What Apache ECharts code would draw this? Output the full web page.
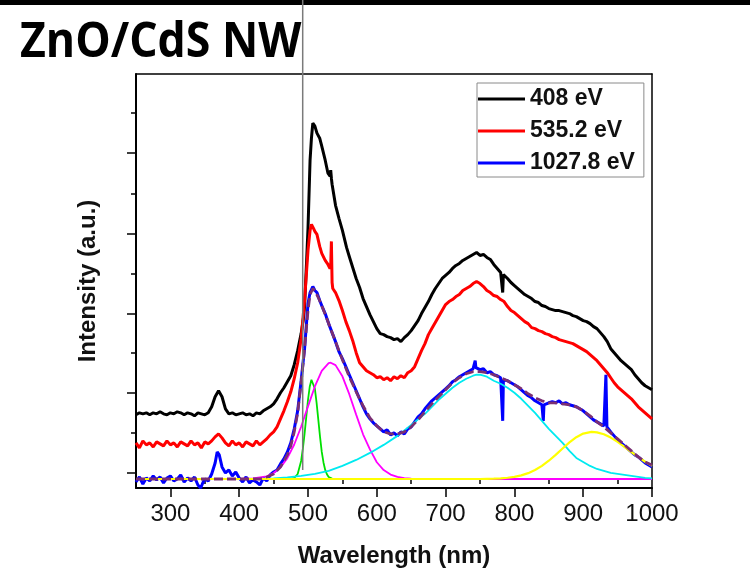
<!DOCTYPE html>
<html>
<head>
<meta charset="utf-8">
<script src="https://cdn.jsdelivr.net/npm/echarts@6/dist/echarts.min.js"></script>
<style>html,body{margin:0;padding:0;background:#fff}#c{width:750px;height:578px}</style>
</head>
<body>
<div id="c"></div>
<script>
// Wavelength (nm), intensity (a.u.)
const xMajorTicks = [300, 400, 500, 600, 700, 800, 900, 1000];
const xMinorTicks = [350, 450, 550, 650, 750, 850, 950];
const yMajorTicks = [6, 86, 165, 245, 325];
const yMinorTicks = [46, 126, 205, 285, 365];
const seriesNames = ['408 eV', '535.2 eV', '1027.8 eV'];

const black408 = [[250,64],[255,66],[260,65],[265,66],[270,64],[275,66],[280,65],[285,67],[290,65],[295,64],[300,66],[305,65],[310,67],[315,66],[320,64],[325,66],[330,65],[335,63],[340,66],[345,65],[350,64],[355,66],[360,72],[365,82],[370,88],[375,82],[380,70],[385,65],[390,66],[395,64],[400,65],[405,66],[410,64],[415,65],[420,63],[425,66],[430,65],[435,68],[440,70],[445,72],[450,75],[455,80],[460,86],[465,91],[470,97],[475,103],[480,114],[485,128],[490,145],[493,158],[495,172],[498,218],[500,250],[503,318],[505,340],[507,355],[510,352],[513,345],[517,340],[520,332],[525,318],[529,305],[532,302],[533,308],[534,300],[535,294],[540,273],[545,260],[550,248],[556,231],[560,222],[565,211],[570,200],[575,191],[580,180],[585,172],[590,164],[595,157],[600,150],[605,145],[610,144],[615,142],[620,141],[625,139],[630,140],[635,137],[640,141],[645,144],[650,148],[655,153],[660,158],[665,165],[670,171],[675,177],[680,184],[685,190],[690,195],[695,200],[700,203],[705,206],[710,210],[715,213],[720,215],[725,218],[730,220],[735,222],[740,224],[745,226],[750,223],[755,224],[760,221],[765,219],[770,214],[775,210],[780,206],[782,205],[783,186],[784,204],[790,200],[795,196],[800,193],[805,190],[810,187],[815,184],[820,182],[825,180],[830,177],[835,176],[840,173],[845,172],[850,170],[855,169],[860,168],[865,168],[870,167],[875,166],[880,165],[885,163],[890,162],[895,160],[900,158],[905,157],[910,155],[915,152],[920,150],[925,146],[930,142],[935,137],[940,130],[945,126],[950,122],[955,118],[960,115],[965,112],[970,109],[975,104],[980,100],[985,96],[990,93],[995,91],[1000,89]];

const red535 = [[250,36],[255,31],[260,38],[265,34],[270,36],[275,32],[280,37],[285,35],[290,33],[295,38],[300,34],[305,36],[310,32],[315,37],[320,35],[325,33],[330,38],[335,34],[340,36],[345,31],[350,37],[355,35],[360,38],[365,42],[370,45],[375,41],[380,36],[385,33],[390,38],[395,34],[400,36],[405,32],[410,37],[415,35],[420,33],[425,38],[430,34],[435,37],[440,40],[445,44],[450,47],[455,52],[460,60],[465,68],[470,77],[475,87],[480,100],[485,116],[490,140],[495,178],[500,228],[503,248],[505,254],[508,250],[510,247],[513,244],[517,232],[520,225],[525,218],[529,214],[532,210],[533,212],[534,237],[535,196],[536,190],[540,186],[545,178],[550,168],[555,157],[560,148],[565,138],[570,126],[575,116],[580,112],[585,108],[590,106],[595,104],[600,101],[605,102],[610,99],[615,101],[620,98],[625,102],[630,100],[635,103],[640,101],[645,106],[650,108],[655,112],[660,120],[665,128],[670,135],[675,144],[680,150],[685,156],[690,162],[695,168],[700,174],[705,177],[710,179],[715,182],[720,184],[725,188],[730,190],[735,192],[740,195],[745,197],[750,195],[755,192],[760,188],[765,186],[770,183],[775,182],[780,179],[785,177],[790,172],[795,168],[800,166],[805,163],[810,160],[815,157],[820,155],[825,151],[830,150],[835,148],[840,147],[845,145],[850,144],[855,142],[860,141],[865,139],[870,138],[875,137],[880,136],[885,135],[890,133],[895,131],[900,129],[905,127],[910,124],[915,121],[920,118],[925,114],[930,110],[935,106],[940,101],[945,96],[950,92],[955,89],[960,86],[965,83],[970,80],[975,76],[980,72],[985,69],[990,66],[995,63],[1000,60]];

const blue1027 = [[250,-3],[255,2],[260,-5],[265,1],[270,-2],[275,3],[280,-1],[285,2],[290,-4],[295,1],[300,3],[305,-2],[310,0],[315,4],[320,-3],[325,1],[330,-2],[335,2],[340,-6],[344,-9],[347,-4],[350,0],[355,-2],[360,5],[365,16],[368,27],[371,24],[375,12],[380,6],[385,9],[390,3],[395,7],[400,1],[405,-3],[410,2],[415,-4],[420,-1],[425,-3],[430,-6],[435,1],[440,-2],[445,4],[450,7],[455,9],[460,15],[465,20],[470,27],[475,36],[480,50],[485,68],[490,98],[495,130],[500,175],[503,186],[507,192],[510,188],[513,186],[517,178],[520,173],[525,165],[530,155],[535,146],[540,137],[545,127],[550,120],[555,112],[560,104],[565,96],[570,88],[575,80],[580,72],[585,65],[590,60],[595,56],[600,53],[605,50],[610,47],[615,49],[620,44],[625,46],[630,43],[635,47],[640,45],[645,50],[650,52],[655,57],[660,62],[665,65],[670,70],[675,74],[680,78],[685,81],[690,84],[695,87],[700,90],[705,93],[710,97],[715,99],[720,102],[725,104],[730,106],[735,108],[740,110],[742,110],[743,118],[744,111],[750,109],[755,110],[760,106],[765,107],[770,104],[775,103],[780,101],[782,100],[783,58],[784,99],[790,98],[795,96],[800,94],[805,92],[810,89],[815,86],[820,83],[825,81],[830,78],[835,76],[840,74],[842,58],[843,74],[850,76],[855,77],[860,76],[865,78],[870,75],[875,76],[880,74],[885,73],[890,72],[895,70],[900,68],[905,65],[910,62],[915,59],[920,57],[925,55],[930,53],[932.5,54],[933,104],[934,104],[934.5,52],[940,47],[945,43],[950,39],[955,36],[960,33],[965,30],[970,27],[975,24],[980,22],[985,19],[990,16],[995,14],[1000,12]];

const fitGreen = [[250,0],[470,0],[475,0.2],[480,1],[485,5],[490,18],[492.5,30],[495,45],[497.5,62],[500,79],[502.5,92],[505,99],[506,100],[507.5,98.5],[510,90],[512.5,76],[515,59],[517.5,42],[520,27],[522.5,16.5],[525,9],[527.5,4.7],[530,2],[535,0.4],[540,0],[1000,0]];

const fitMagenta = [[250,0],[400,0],[420,0.5],[440,2.7],[450,5.9],[460,11.6],[470,20.8],[480,34.4],[490,52.1],[500,72.4],[510,92.3],[520,107.8],[530,115.5],[533,116],[540,113.6],[550,102.4],[560,84.6],[570,64.2],[580,44.6],[590,29.5],[600,16.7],[610,8.9],[620,4.4],[630,2],[640,0.8],[650,0.3],[670,0],[1000,0]];

const fitCyan = [[250,0],[430,0],[450,0.5],[470,1.5],[490,3],[510,5],[530,8],[550,13],[570,19],[590,26],[610,34],[630,43],[650,54],[670,65],[690,79],[700,85],[710,91],[720,96],[730,100],[740,103],[745,104],[750,104],[760,102],[770,98],[780,95],[790,91],[800,86],[810,80],[820,73],[830,66],[840,58],[850,50],[860,43],[870,36],[880,28],[890,21],[900,17],[910,13],[920,10],[930,8],[940,6],[950,5],[960,4],[970,3],[980,2],[990,1],[1000,0.5]];

const fitYellow = [[250,0],[750,0],[760,0.2],[770,0.3],[780,0.6],[790,1.2],[800,2.1],[810,3.6],[820,5.8],[830,8.9],[840,13.1],[850,18.2],[860,24.1],[870,30.4],[880,36.5],[890,41.7],[900,45.3],[912,47],[920,46.5],[930,44.6],[940,41.3],[950,37],[960,32.1],[970,26.9],[980,21.9],[990,17.2],[1000,13.1]];

const fitSum = [[250,0],[430,0],[440,2],[450,5],[460,12],[470,24],[475,33],[480,47],[485,66],[490,96],[495,130],[500,168],[503,184],[507,190],[510,188],[515,181],[520,173],[525,164],[530,155],[540,137],[550,119],[560,102],[570,87],[580,73],[590,61],[600,53],[610,47],[620,45],[630,45],[640,47],[650,52],[660,59],[670,67],[680,75],[690,82],[700,89],[710,96],[720,101],[730,105],[740,107],[750,107],[760,106],[770,104],[780,101],[790,98],[800,94],[810,90],[820,85],[830,81],[840,78],[850,76],[860,76],[870,75],[880,74],[890,72],[900,68],[910,63],[920,57],[930,52],[940,46],[950,40],[960,34],[970,28],[980,22],[990,17],[1000,14]];

const FONT = '"Liberation Sans", Arial, sans-serif';
const chart = echarts.init(document.getElementById('c'), null, {renderer: 'canvas'});

function line(name, data, color, width, z, dash) {
  return {
    name: name, type: 'line', data: data, showSymbol: false, symbol: 'none',
    xAxisIndex: 0, yAxisIndex: 0, z: z, silent: true,
    lineStyle: {color: color, width: width, type: dash || 'solid'},
    itemStyle: {color: color}
  };
}

chart.setOption({
  animation: false,
  backgroundColor: '#fff',
  grid: {left: 136, right: 98, top: 74, bottom: 90, containLabel: false},
  legend: {
    data: seriesNames,
    orient: 'vertical',
    left: 477, top: 83,
    padding: [4, 9, 2, 1],
    itemWidth: 47, itemHeight: 3, itemGap: 8,
    icon: 'rect',
    borderColor: '#8a8a8a', borderWidth: 1,
    textStyle: {fontFamily: FONT, fontWeight: 'bold', fontSize: 23, color: '#111', lineHeight: 24, padding: [0,0,0,0]},
    selectedMode: false
  },
  xAxis: [
    {
      type: 'value', min: 250, max: 1000, position: 'bottom',
      name: 'Wavelength (nm)', nameLocation: 'middle', nameGap: 56,
      nameTextStyle: {fontFamily: FONT, fontWeight: 'bold', fontSize: 24, color: '#111'},
      axisLine: {show: true, onZero: false, lineStyle: {color: '#000', width: 2}},
      axisTick: {show: true, length: 9, customValues: xMajorTicks, lineStyle: {color: '#000', width: 1.5}},
      axisLabel: {show: true, customValues: xMajorTicks, formatter: function (v) { return String(v); },
                  fontFamily: FONT, fontSize: 24, color: '#111', margin: 14},
      splitLine: {show: false}
    },
    {
      type: 'value', min: 250, max: 1000, position: 'bottom',
      axisLine: {show: false},
      axisTick: {show: true, length: 5, customValues: xMinorTicks, lineStyle: {color: '#000', width: 1.5}},
      axisLabel: {show: false}, splitLine: {show: false}
    },
    {
      type: 'value', min: 250, max: 1000, position: 'top',
      axisLine: {show: true, onZero: false, lineStyle: {color: '#000', width: 1.5}},
      axisTick: {show: false}, axisLabel: {show: false}, splitLine: {show: false}
    }
  ],
  yAxis: [
    {
      type: 'value', min: -9, max: 404, position: 'left',
      name: 'Intensity (a.u.)', nameLocation: 'middle', nameGap: 36,
      nameTextStyle: {fontFamily: FONT, fontWeight: 'bold', fontSize: 24, color: '#111'},
      axisLine: {show: true, onZero: false, lineStyle: {color: '#000', width: 2}},
      axisTick: {show: true, length: 9, customValues: yMajorTicks, lineStyle: {color: '#000', width: 1.5}},
      axisLabel: {show: false}, splitLine: {show: false}
    },
    {
      type: 'value', min: -9, max: 404, position: 'left',
      axisLine: {show: false},
      axisTick: {show: true, length: 5, customValues: yMinorTicks, lineStyle: {color: '#000', width: 1.5}},
      axisLabel: {show: false}, splitLine: {show: false}
    },
    {
      type: 'value', min: -9, max: 404, position: 'right',
      axisLine: {show: true, onZero: false, lineStyle: {color: '#000', width: 1.5}},
      axisTick: {show: false}, axisLabel: {show: false}, splitLine: {show: false}
    }
  ],
  series: [
    line(seriesNames[0], black408, '#000000', 3, 2),
    line(seriesNames[1], red535, '#ff0000', 3, 3),
    line(seriesNames[2], blue1027, '#0000ff', 3, 4),
    line('Fit peak 1', fitGreen, '#00e000', 1.8, 5),
    line('Fit peak 2', fitMagenta, '#ff00ff', 1.8, 6),
    line('Fit peak 3', fitCyan, '#00eaf0', 1.8, 7),
    line('Fit peak 4', fitYellow, '#ffff00', 2.2, 8),
    line('Cumulative fit', fitSum, '#7b2f72', 2.8, 9, [9, 4])
  ],
  graphic: [
    {type: 'rect', shape: {x: 0, y: 0, width: 750, height: 5}, style: {fill: '#000'}, z: 100},
    {type: 'line', shape: {x1: 302.7, y1: 0, x2: 302.7, y2: 470}, style: {stroke: '#7a7a7a', lineWidth: 1.5}, z: 101},
    {type: 'text', x: 20, y: 43, scaleX: 0.93, z: 102,
     style: {text: 'ZnO/CdS NW', font: 'bold 48px "Open Sans", "Noto Sans", sans-serif', fill: '#000', verticalAlign: 'middle', align: 'left'}}
  ]
});
</script>
</body>
</html>
